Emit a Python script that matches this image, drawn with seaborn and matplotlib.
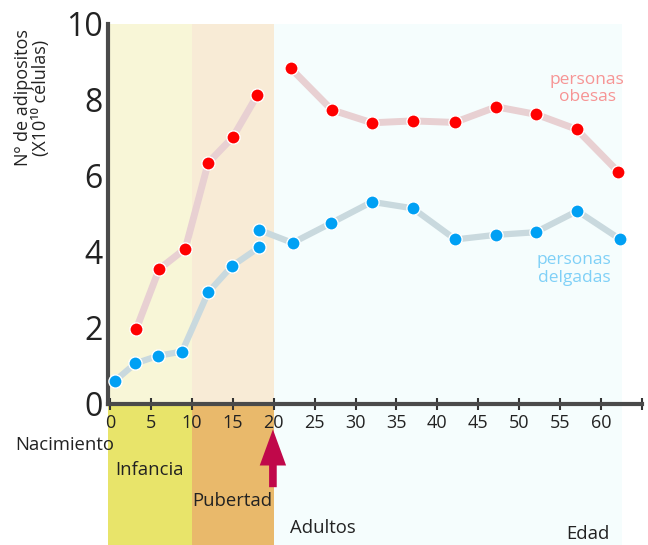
import matplotlib
matplotlib.use("Agg")
import matplotlib.pyplot as plt
import pandas as pd
import seaborn as sns

# Adipocyte count (x10^10 cells) by age.
obese_age_child = [3.2, 6, 9.2, 12, 15, 18]
obese_val_child = [1.97, 3.55, 4.09, 6.35, 7.02, 8.13]
obese_age_adult = [22.1, 27.1, 32, 37, 42.1, 47.2, 52.1, 57, 62.1]
obese_val_adult = [8.83, 7.74, 7.40, 7.45, 7.41, 7.82, 7.62, 7.23, 6.11]

lean_age_child = [0.6, 3.1, 5.9, 8.8, 12, 14.9, 18.2]
lean_val_child = [0.61, 1.07, 1.27, 1.38, 2.94, 3.63, 4.12]
lean_age_adult = [18.2, 22.3, 27, 32, 37, 42.2, 47.1, 52, 57.1, 62.3]
lean_val_adult = [4.58, 4.24, 4.76, 5.32, 5.15, 4.33, 4.45, 4.52, 5.08, 4.34]

# Life stages (start, end) along the age axis.
stage_names = ["Infancia", "Pubertad", "Adultos"]
stage_spans = [(-0.25, 10), (10, 20), (20, 62.6)]
stage_light = ["#f8f6d7", "#f8ebd6", "#f5fdfd"]
stage_strong = ["#e8e46a", "#e9b96b", "#f5fdfd"]

x_ticks = list(range(0, 70, 5))
x_tick_labels = [str(t) if t <= 60 else "" for t in x_ticks]
y_ticks = [0, 2, 4, 6, 8, 10]

sns.set_theme(style="white")
plt.rcParams["font.family"] = ["Open Sans", "DejaVu Sans"]

W, H = 648, 545
fig = plt.figure(figsize=(W / 100, H / 100), dpi=100)

# Main plotting area.
ax = fig.add_axes([108 / W, 141 / H, 534 / W, 380 / H])
ax.set_zorder(2)
for (a, b), c in zip(stage_spans, stage_light):
    ax.axvspan(a, b, color=c, lw=0, zorder=0)


def segment(ages, vals, line_color, dot_color, lw):
    df = pd.DataFrame({"age": ages, "val": vals})
    sns.lineplot(
        data=df, x="age", y="val", ax=ax, sort=False, estimator=None,
        color=line_color, linewidth=lw, marker="o", markersize=9.5,
        markerfacecolor=dot_color, markeredgecolor="white",
        markeredgewidth=1.0, zorder=3,
    )


segment(obese_age_child, obese_val_child, "#e8d0d2", "#ff0000", 5)
segment(obese_age_adult, obese_val_adult, "#e8d0d2", "#ff0000", 5)
segment(lean_age_child, lean_val_child, "#c9d9de", "#00a0f4", 4.5)
segment(lean_age_adult, lean_val_adult, "#c9d9de", "#00a0f4", 4.5)

ax.set_xlim(-0.25, 65)
ax.set_ylim(0, 10)
ax.set_xlabel("")
ax.set_ylabel("")
ax.set_xticks(x_ticks)
ax.set_xticklabels(x_tick_labels, fontsize=13, color="#222222")
ax.set_yticks(y_ticks)
ax.set_yticklabels([str(v) for v in y_ticks], fontsize=23, color="#222222")
ax.tick_params(axis="x", direction="inout", length=8, width=1.5,
               color="#333333", pad=3, bottom=True)
ax.tick_params(axis="y", length=0, pad=4)
for side in ["top", "right"]:
    ax.spines[side].set_visible(False)
for side in ["left", "bottom"]:
    ax.spines[side].set_linewidth(3)
    ax.spines[side].set_color("#4a4a4a")

ax.text(58.3, 8.3, "personas\nobesas", color="#f79494", fontsize=12.5,
        ha="center", va="center", linespacing=1.15)
ax.text(56.7, 3.55, "personas\ndelgadas", color="#7fd0f7", fontsize=12.5,
        ha="center", va="center", linespacing=1.15)

# Stage bands below the axis.
low = fig.add_axes([108 / W, 0, 534 / W, 141 / H])
low.set_zorder(1)
for (a, b), c in zip(stage_spans, stage_strong):
    low.axvspan(a, b, color=c, lw=0)
low.set_xlim(-0.25, 65)
low.set_ylim(0, 1)
low.axis("off")

low.text(0.65, 0.53, stage_names[0], fontsize=13.3, color="#222222", va="center")
low.text(10.1, 0.31, stage_names[1], fontsize=13.3, color="#222222", va="center")
low.text(22, 0.12, stage_names[2], fontsize=13.3, color="#222222", va="center")
low.text(55.8, 0.08, "Edad", fontsize=13.3, color="#222222", va="center")

low.annotate(
    "", xy=(19.9, 0.82), xytext=(19.9, 0.41),
    arrowprops=dict(facecolor="#c0084a", edgecolor="none", width=5.5,
                    headwidth=19, headlength=26, shrink=0),
)

fig.text(15 / W, 1 - 445 / H, "Nacimiento", fontsize=13.3, color="#222222",
         ha="left", va="center")
fig.text(32 / W, 1 - 98 / H, "Nº de adipositos\n(X10¹⁰ células)",
         rotation=90, fontsize=13, color="#222222", ha="center",
         va="center", linespacing=1.0)

fig.savefig("out.png", dpi=100, facecolor="white")
